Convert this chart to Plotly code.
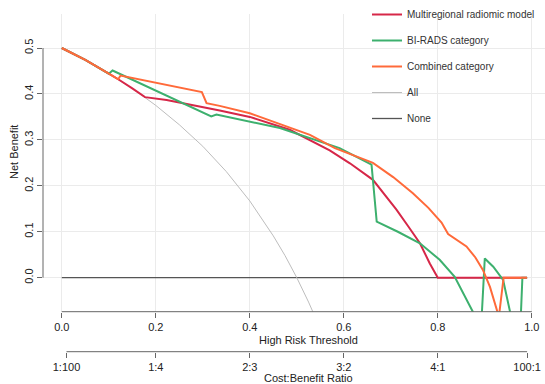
import plotly.graph_objects as go

# Thresholds / net benefit values
all_t = [0.0, 0.05, 0.10, 0.15, 0.20, 0.25, 0.30, 0.35, 0.40, 0.45, 0.475, 0.50, 0.525, 0.55]
all_v = [0.500, 0.474, 0.444, 0.412, 0.375, 0.333, 0.286, 0.231, 0.167, 0.091, 0.048, 0.000, -0.053, -0.111]

none_t = [0.0, 0.99]
none_v = [0.0, 0.0]

model_t = [0.0, 0.05, 0.10, 0.12, 0.15, 0.177, 0.223, 0.294, 0.336, 0.40, 0.485, 0.57, 0.613,
           0.662, 0.712, 0.737, 0.762, 0.783, 0.80, 0.99]
model_v = [0.500, 0.474, 0.444, 0.432, 0.412, 0.393, 0.387, 0.373, 0.364, 0.350, 0.322, 0.277, 0.249,
           0.213, 0.148, 0.112, 0.075, 0.031, 0.0, 0.0]

birads_t = [0.0, 0.05, 0.10, 0.108, 0.318, 0.329, 0.464, 0.591, 0.659, 0.67, 0.715, 0.762, 0.804,
            0.836, 0.875, 0.89, 0.90, 0.918, 0.939, 0.955, 0.972, 0.98, 0.99]
birads_v = [0.500, 0.474, 0.444, 0.451, 0.351, 0.355, 0.326, 0.282, 0.246, 0.122, 0.100, 0.075, 0.039,
            0.002, -0.075, -0.15, 0.042, 0.024, -0.005, -0.08, -0.20, 0.0, 0.0]

comb_t = [0.0, 0.05, 0.10, 0.12, 0.125, 0.298, 0.308, 0.336, 0.40, 0.528, 0.581, 0.613, 0.662,
          0.705, 0.747, 0.78, 0.808, 0.822, 0.861, 0.88, 0.896, 0.911, 0.93, 0.94, 0.99]
comb_v = [0.500, 0.474, 0.444, 0.432, 0.440, 0.404, 0.380, 0.374, 0.358, 0.311, 0.282, 0.270, 0.250,
          0.219, 0.184, 0.152, 0.120, 0.095, 0.068, 0.044, 0.017, -0.020, -0.085, 0.0, 0.0]

x_ticks = [0.0, 0.2, 0.4, 0.6, 0.8, 1.0]
x_ticktext = ["0.0", "0.2", "0.4", "0.6", "0.8", "1.0"]
cb_tickvals = [0.01, 0.2, 0.4, 0.6, 0.8, 0.99]
cb_ticktext = ["1:100", "1:4", "2:3", "3:2", "4:1", "100:1"]
y_ticks = [0.0, 0.1, 0.2, 0.3, 0.4, 0.5]
y_ticktext = ["0.0", "0.1", "0.2", "0.3", "0.4", "0.5"]

RED = "#D62748"
GREEN = "#3DB06E"
ORANGE = "#FF6A3A"
ALLC = "#BDBDBD"
NONEC = "#555555"
TXT = "#222222"
AXC = "#666666"
FONT = "Liberation Sans, Arial, sans-serif"

fig = go.Figure()
fig.add_trace(go.Scatter(x=none_t, y=none_v, mode="lines", name="None",
                         line=dict(color=NONEC, width=1.3), legendrank=5, legendgroup="e"))
fig.add_trace(go.Scatter(x=all_t, y=all_v, mode="lines", name="All",
                         line=dict(color=ALLC, width=1), legendrank=4, legendgroup="d"))
fig.add_trace(go.Scatter(x=model_t, y=model_v, mode="lines", name="Multiregional radiomic model",
                         line=dict(color=RED, width=2), legendrank=1, legendgroup="a"))
fig.add_trace(go.Scatter(x=birads_t, y=birads_v, mode="lines", name="BI-RADS category",
                         line=dict(color=GREEN, width=2), legendrank=2, legendgroup="b"))
fig.add_trace(go.Scatter(x=comb_t, y=comb_v, mode="lines", name="Combined category",
                         line=dict(color=ORANGE, width=2), legendrank=3, legendgroup="c"))
# carrier for the cost:benefit axis (no visible marks)
fig.add_trace(go.Scatter(x=[0.5], y=[None], xaxis="x2", mode="lines", showlegend=False,
                         hoverinfo="skip"))

H = 384.0
W = 545.0
L = 43.0
ph = H
pw = W - L
ydom0 = (H - 311.7) / ph
ydom1 = (H - 14.0) / ph
cb_pos = (H - 351.7) / ph

def px_x(p):
    return (p - L) / pw

def px_y(p):
    return (H - p) / ph

fig.update_layout(
    width=545, height=384,
    margin=dict(l=43, r=0, t=0, b=0, autoexpand=False),
    paper_bgcolor="white", plot_bgcolor="white",
    font=dict(family=FONT, size=11, color=TXT),
    showlegend=True,
    legend=dict(x=px_x(367), y=1.0, xanchor="left", yanchor="top",
                bgcolor="rgba(0,0,0,0)", font=dict(size=10, color="#333333"),
                tracegroupgap=7, traceorder="grouped"),
    xaxis=dict(range=[-0.04, 1.0281], tickvals=x_ticks, ticktext=x_ticktext,
               showgrid=True, gridcolor="#EBEBEB", gridwidth=1, zeroline=False,
               showline=False, ticks="outside", ticklen=5, tickcolor=AXC,
               tickfont=dict(size=11, color=TXT), anchor="y", automargin=False),
    xaxis2=dict(range=[-0.04, 1.0281], overlaying="x", anchor="free", position=cb_pos,
                side="bottom", tickvals=cb_tickvals, ticktext=cb_ticktext,
                showgrid=False, zeroline=False, showline=False, ticks="outside", ticklen=5,
                tickcolor=AXC, tickfont=dict(size=11, color=TXT), automargin=False),
    yaxis=dict(range=[-0.074, 0.574], domain=[ydom0, ydom1], tickvals=y_ticks,
               ticktext=y_ticktext, tickangle=-90,
               showgrid=True, gridcolor="#EBEBEB", gridwidth=1, zeroline=False,
               showline=False, ticks="outside", ticklen=5, tickcolor=AXC,
               tickfont=dict(size=11, color=TXT), automargin=False),
    shapes=[
        dict(type="line", xref="x", yref="paper", x0=0, x1=1, y0=ydom0, y1=ydom0,
             line=dict(color=AXC, width=1)),
        dict(type="line", xref="x", yref="paper", x0=0.01, x1=0.99, y0=cb_pos, y1=cb_pos,
             line=dict(color=AXC, width=1)),
        dict(type="line", xref="paper", yref="y", x0=0, x1=0, y0=0, y1=0.5,
             line=dict(color=AXC, width=1)),
    ],
    annotations=[
        dict(text="High Risk Threshold", xref="paper", yref="paper", x=px_x(308), y=px_y(340),
             showarrow=False, xanchor="center", yanchor="middle", font=dict(size=11, color=TXT)),
        dict(text="Cost:Benefit Ratio", xref="paper", yref="paper", x=px_x(308), y=px_y(377.5),
             showarrow=False, xanchor="center", yanchor="middle", font=dict(size=11, color=TXT)),
        dict(text="Net Benefit", xref="paper", yref="paper", x=px_x(13.5), y=px_y(152.5),
             showarrow=False, textangle=-90, xanchor="center", yanchor="middle",
             font=dict(size=11, color=TXT)),
    ],
)

fig.write_html("out.html", config={"displayModeBar": False},
               post_script="document.body.style.margin='0';document.body.style.padding='0';")
